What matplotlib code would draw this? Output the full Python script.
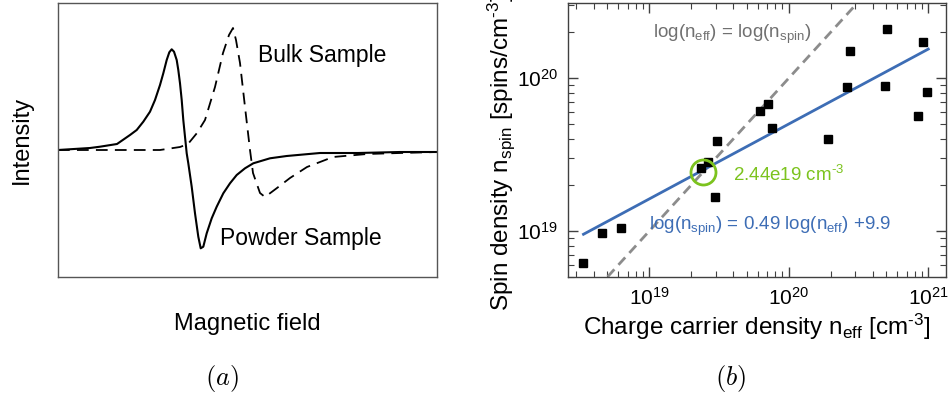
import numpy as np
import matplotlib
matplotlib.use("Agg")
import matplotlib.pyplot as plt
from matplotlib.ticker import LogLocator, NullFormatter

plt.rcParams['font.family'] = ['Liberation Sans', 'DejaVu Sans']
plt.rcParams['mathtext.fontset'] = 'custom'
plt.rcParams['mathtext.rm'] = 'Liberation Sans'
plt.rcParams['mathtext.it'] = 'Liberation Sans:italic'
plt.rcParams['mathtext.default'] = 'regular'

# ESR spectra (arbitrary units)
field_powder = [0, 32, 42, 59, 72, 78.7, 85.3, 92, 97, 102, 105.3, 108.7, 111.3, 113.7,
                116, 118.7, 120.3, 122, 123.7, 125.3, 127, 128.7, 130.3, 133.7, 137,
                140.3, 142.7, 145.3, 148.7, 153.7, 158.7, 165.3, 172, 178.7, 187,
                195.3, 212, 228.7, 262, 300, 342, 379]
int_powder = [0, 2, 3.3, 6, 15, 20, 28.3, 38.3, 50, 65, 76.7, 90, 97.7, 100.7,
              98.3, 90, 80, 66.7, 50, 30, 13.3, -3.3, -13.3, -36.7, -63.3,
              -86.7, -98.3, -96.7, -83.3, -68.3, -56.7, -43.3, -33.3, -25, -18.3,
              -13.3, -8.3, -6, -3, -3, -2, -2]

field_bulk = [0, 42, 102, 122, 130, 139, 147, 157, 165, 171, 175, 178, 182, 187,
              192, 195, 202, 207, 219, 232, 249, 275, 309, 342, 379]
int_bulk = [0, 0, 0, 3, 6, 17, 30, 63, 97, 115, 122, 110, 87, 43,
            0, -23, -43, -47, -38, -28, -17, -7, -4, -3, -2]

# spin density vs charge carrier density (cm^-3)
n_eff = [3.37e18, 4.56e18, 6.24e18, 2.33e19, 2.65e19, 3.08e19, 2.96e19, 6.22e19,
         7.10e19, 7.59e19, 1.91e20, 2.62e20, 2.73e20, 4.86e20, 5.06e20, 8.45e20,
         9.16e20, 9.84e20]
n_spin = [6.22e18, 9.77e18, 1.05e19, 2.59e19, 2.82e19, 3.90e19, 1.66e19, 6.05e19,
          6.76e19, 4.71e19, 4.00e19, 8.77e19, 1.50e20, 8.91e19, 2.09e20, 5.62e19,
          1.71e20, 8.13e19]
fit_slope = 0.49
fit_icpt = 9.9
crossover = 2.44e19

fig = plt.figure(figsize=(9.5, 3.98), dpi=100)

# (a) spectra
ax1 = fig.add_axes([58 / 950, 121 / 398, 379 / 950, 274 / 398])
ax1.plot(field_powder, int_powder, color='black', lw=1.5)
ax1.plot(field_bulk, int_bulk, color='black', lw=1.3, dashes=(6.5, 4))
ax1.set_xlim(0, 379)
ax1.set_ylim(-127, 147)
ax1.set_xticks([])
ax1.set_yticks([])
for s in ax1.spines.values():
    s.set_color('#555555')
    s.set_linewidth(1)
ax1.text(200, 88, 'Bulk Sample', fontsize=16.5)
ax1.text(162, -95, 'Powder Sample', fontsize=16.5)
ax1.set_xlabel('Magnetic field', fontsize=17, labelpad=26)
ax1.set_ylabel('Intensity', fontsize=17, labelpad=18)

# (b) spin density
ax2 = fig.add_axes([568 / 950, 121 / 398, 378 / 950, 274 / 398])
ax2.set_xscale('log')
ax2.set_yscale('log')
ax2.set_xlim(2.61e18, 1.34e21)
ax2.set_ylim(5.0e18, 3.1e20)

diag = np.array([1e18, 1e21])
ax2.plot(diag, diag, color='#8c8c8c', lw=2, dashes=(3.6, 2.2))
fx = np.array([3.37e18, 1.0e21])
ax2.plot(fx, 10 ** (fit_slope * np.log10(fx) + fit_icpt), color='#3d6db5', lw=2)
ax2.plot(n_eff, n_spin, 's', color='black', ms=6)
ax2.plot([crossover], [crossover], 'o', mfc='none', mec='#7cc31e', mew=2, ms=18)

hy = '\u2010'  # plain hyphen for the unit exponents
ax2.text(1.06e19, 1.84e20, 'log(n$_{eff}$) = log(n$_{spin}$)', color='#707070', fontsize=13.5)
ax2.text(3.98e19, 2.12e19, '2.44e19 cm$^{' + hy + '3}$', color='#7cc31e', fontsize=13.5)
ax2.text(1.0e19, 1.01e19, 'log(n$_{spin}$) = 0.49 log(n$_{eff}$) +9.9', color='#3d6db5', fontsize=13.5)

ax2.xaxis.set_major_locator(LogLocator(base=10, numticks=10))
ax2.xaxis.set_minor_locator(LogLocator(base=10, subs=np.arange(2, 10), numticks=20))
ax2.yaxis.set_minor_locator(LogLocator(base=10, subs=np.arange(2, 10), numticks=20))
ax2.xaxis.set_minor_formatter(NullFormatter())
ax2.yaxis.set_minor_formatter(NullFormatter())
ax2.tick_params(which='both', direction='in', top=True, right=True, labelsize=15,
                color='#404040', pad=7)
ax2.tick_params(which='major', length=7, width=1)
ax2.tick_params(which='minor', length=4, width=0.8)
for s in ax2.spines.values():
    s.set_color('#404040')
    s.set_linewidth(1)
ax2.set_xlabel('Charge carrier density n$_{eff}$ [cm$^{' + hy + '3}$]', fontsize=17.5, labelpad=2)
ax2.set_ylabel('Spin density n$_{spin}$ [spins/cm$^{' + hy + '3}$]', fontsize=17.5)
ax2.yaxis.set_label_coords(-0.135, 0.455)

fig.text(222 / 950, 1 - 379 / 398, r'$\mathit{(a)}$', math_fontfamily='cm',
         fontsize=19, ha='center', va='center')
fig.text(731 / 950, 1 - 379 / 398, r'$\mathit{(b)}$', math_fontfamily='cm',
         fontsize=19, ha='center', va='center')

fig.savefig('out.png', dpi=100)
